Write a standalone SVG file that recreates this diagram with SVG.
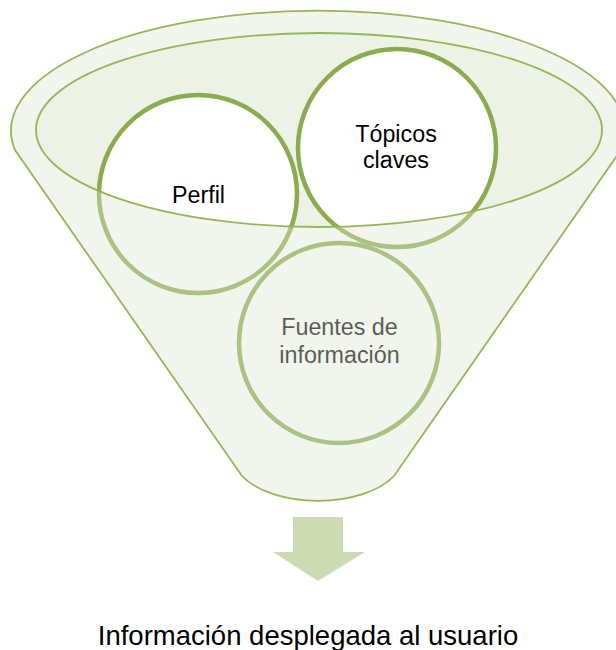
<svg xmlns="http://www.w3.org/2000/svg" width="616" height="650" viewBox="0 0 616 650">
  <defs>
    <style>
      .circ { fill: #ffffff; stroke: #8aab4e; stroke-width: 4.5; }
      .lbl { font-family: "Liberation Sans", Arial, sans-serif; font-size: 23.3px; fill: #000000; text-anchor: middle; }
      .outline { fill: none; stroke: #95b756; stroke-width: 1.8; }
    </style>
  </defs>
  <rect width="616" height="650" fill="#ffffff"/>
  <g id="funnel-base">
    <ellipse cx="319" cy="130" rx="283" ry="97" fill="#eef2e6"/>
  </g>
  <g id="node-perfil">
    <circle class="circ" cx="198" cy="194" r="99"/>
    <text class="lbl" x="198.5" y="203">Perfil</text>
  </g>
  <g id="node-topicos">
    <circle class="circ" cx="397" cy="148" r="99"/>
    <text class="lbl" x="396" y="142">Tópicos</text>
    <text class="lbl" x="396" y="168">claves</text>
  </g>
  <g id="node-fuentes">
    <circle class="circ" cx="339" cy="343" r="100"/>
    <text class="lbl" x="339.5" y="335">Fuentes de</text>
    <text class="lbl" x="339.5" y="363">información</text>
  </g>
  <g id="funnel-overlay">
    <path fill="#dbe6d1" fill-opacity="0.4" fill-rule="evenodd" d="M 15 150 A 307 120 0 1 1 621 150 L 394 476 A 85 45 0 0 1 242 476 Z M 36 130 A 283 97 0 1 0 602 130 A 283 97 0 1 0 36 130 Z"/>
  </g>
  <g id="funnel-outline">
    <path class="outline" d="M 15 150 A 307 120 0 1 1 621 150 L 394 476 A 85 45 0 0 1 242 476 Z"/>
    <ellipse class="outline" cx="319" cy="130" rx="283" ry="97"/>
  </g>
  <g id="connectors">
    <path id="arrow" fill="#cddbb5" d="M 293 517 L 343 517 L 343 552 L 365 552 L 318 581 L 273 552 L 293 552 Z"/>
  </g>
  <g id="node-resultado">
    <text x="308" y="644.5" font-family="'Liberation Sans', Arial, sans-serif" font-size="27.5px" fill="#000000" text-anchor="middle">Información desplegada al usuario</text>
  </g>
</svg>
